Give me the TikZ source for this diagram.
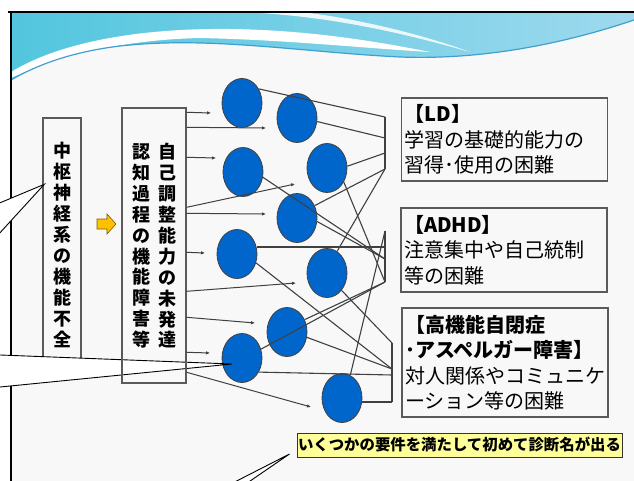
\documentclass[tikz,border=0pt]{standalone}
\usepackage{fontspec}
\setmainfont{Noto Sans CJK JP}
\usetikzlibrary{shapes.geometric,arrows.meta,calc}
\definecolor{bgc}{HTML}{F8F8F8}
\definecolor{ellc}{HTML}{0066CC}
\definecolor{cyanA}{HTML}{52C6DE}
\definecolor{cyanB}{HTML}{9ED9EE}
\definecolor{wline}{HTML}{3F9FD0}
\definecolor{lnc}{HTML}{404040}
\definecolor{boxc}{HTML}{5A5A5A}
\definecolor{arrY}{HTML}{FFC000}
\definecolor{arrO}{HTML}{7F6000}
\definecolor{yel}{HTML}{FFFF99}
\tikzset{
 ell/.style={ellipse, draw=black!75, line width=0.8pt, fill=ellc, minimum width=40pt, minimum height=49pt, inner sep=0pt},
 link/.style={draw=lnc, line width=1.1pt},
 feed/.style={draw=lnc, line width=1pt, -{Latex[length=4pt,width=3.5pt]}},
 pbox/.style={draw=boxc, line width=1.4pt, inner sep=0pt},
 vtxt/.style={font=\bfseries\fontsize{18}{20.9}\selectfont, align=center, inner sep=0pt},
 rbox/.style={draw=boxc, line width=1.4pt, fill=bgc, font=\fontsize{20}{25.5}\selectfont, align=left, inner xsep=3pt, inner ysep=2pt, text width=200pt},
 callout/.style={fill=white, draw=black, line width=0.9pt, line join=miter},
}
\begin{document}
\begin{tikzpicture}[x=1pt,y=-1pt]
\useasboundingbox (0,0) rectangle (634,481);
\clip (0,0) rectangle (634,481);
\fill[white] (0,0) rectangle (634,481);
\fill[bgc] (11,12) rectangle (634,481);
% banner
\shade[left color=cyanA, right color=cyanB] (11,12) -- (634,12) -- (634,20) .. controls (560,45) and (480,60) .. (400,57) .. controls (300,52) and (210,36) .. (120,46) .. controls (70,52) and (35,66) .. (11,80) -- cycle;
\fill[white] (11,72) .. controls (60,42) and (140,28) .. (230,29) .. controls (310,30) and (380,42) .. (430,52) .. controls (360,48) and (290,40) .. (200,38) .. controls (120,40) and (60,56) .. (11,78) -- cycle;
\fill[white, opacity=0.85] (235,12) .. controls (320,14) and (400,32) .. (470,52) .. controls (410,30) and (340,16) .. (300,12) -- cycle;
\draw[wline, line width=1.2pt] (11,80) .. controls (35,66) and (70,52) .. (120,46) .. controls (210,36) and (300,52) .. (400,57) .. controls (480,60) and (560,45) .. (634,20);
% frame
\draw[black, line width=1.3pt] (8,12) -- (634,12);
\draw[black, line width=1.3pt] (11,12) -- (11,481);
% left box
\node[pbox, fill=bgc, minimum width=38pt, minimum height=252pt] (cns) at (62,244) {};
\node[vtxt] (cnst) at (62,245) {中\\枢\\神\\経\\系\\の\\機\\能\\不\\全};
% ellipses
\node[ell] (e1) at (242,103) {};
\node[ell] (e2) at (297,118) {};
\node[ell] (e3) at (243,172) {};
\node[ell] (e4) at (327,168) {};
\node[ell] (e5) at (297,218) {};
\node[ell] (e6) at (237,254) {};
\node[ell] (e7) at (327,273) {};
\node[ell] (e8) at (287,332) {};
\node[ell] (e9) at (242,358) {};
\node[ell] (e10) at (342,398) {};
% callouts 1 and 2
\draw[callout] (-10,207) -- ($(cns.north west)+(2,67)$) -- (-10,243.7) -- cycle;
\draw[callout] (-10,354.6) -- ($(e9.center)+(-10,6)$) -- (-10,388) -- cycle;
% second box
\node[pbox, minimum width=64pt, minimum height=275pt] (b2) at (154,245.5) {};
\node[vtxt] (b2r) at (167,246) {自\\己\\調\\整\\能\\力\\の\\未\\発\\達};
\node[vtxt] (b2l) at (141,246) {認\\知\\過\\程\\の\\機\\能\\障\\害\\等};
% yellow arrow
\draw[fill=arrY, draw=arrO, line width=0.6pt] (97,219) -- (107,219) -- (107,214) -- (116,224) -- (107,234) -- (107,229) -- (97,229) -- cycle;
% feeds
\draw[feed] ($(b2.north east)+(0,5)$) -- ($(e1.center)+(-31,10)$);
\draw[feed] ($(b2.north east)+(0,20)$) -- ($(e2.center)+(-31,10)$);
\draw[feed] ($(b2.north east)+(0,50)$) -- ($(e3.center)+(-27,-14)$);
\draw[feed] ($(b2.north east)+(0,100)$) -- ($(e4.center)+(-32,16)$);
\draw[feed] ($(b2.north east)+(0,106)$) -- ($(e5.center)+(-31,-4)$);
\draw[feed] ($(b2.north east)+(0,145)$) -- ($(e6.center)+(-32,-1)$);
\draw[feed] ($(b2.north east)+(0,184)$) -- ($(e7.center)+(-31,10)$);
\draw[feed] ($(b2.north east)+(0,210)$) -- ($(e8.center)+(-32,-9)$);
\draw[feed] ($(b2.north east)+(0,245)$) -- ($(e9.center)+(-32,-5)$);
\draw[feed] ($(b2.north east)+(0,265)$) -- ($(e10.center)+(-31,9)$);
% bar coordinates
\coordinate (la1) at (385,117);
\coordinate (la2) at (385,138);
\coordinate (la3) at (385,153);
\coordinate (la4) at (385,169);
\coordinate (lb1) at (385,231);
\coordinate (lb2) at (385,247);
\coordinate (lb3) at (385,259);
\coordinate (lb4) at (385,282);
\coordinate (lc1) at (392,343);
\coordinate (lc2) at (392,369);
\coordinate (lc3) at (392,375);
\coordinate (lc4) at (392,402);
\draw[link] (la1) -- (la4);
\draw[link] (lb1) -- (lb4);
\draw[link] (lc1) -- (lc4);
% links
\draw[link] (e1.40) -- (la1);
\draw[link] (e2.-10) -- (la2);
\draw[link] (e4.5) -- (la3);
\draw[link] (e5.35) -- (la4);
\draw[link] (e7.65) -- (la4);
\draw[link] (e3.-15) -- (lb3);
\draw[link] (e5.-10) -- (lb3);
\draw[link] (e6.east |- lb2) -- (lb2);
\draw[link] (e4.-40) -- (lb4);
\draw[link] (e8.35) -- (lb4);
\draw[link] (e9.25) -- (lb4);
\draw[link] (e10.70) -- (lb1);
\draw[link] (e6.-25) -- (lc2);
\draw[link] (e7.-50) -- (lc1);
\draw[link] (e8.-15) -- (lc2);
\draw[link] (e9.-40) -- (lc3);
\draw[link] (e10.east |- lc4) -- (lc4);
% right boxes
\node[rbox, minimum height=83pt] (ld) at (504.5,139.5) {{\bfseries【LD】}\\学習の基礎的能力の\\習得･使用の困難};
\node[rbox, minimum height=84pt] (adhd) at (504,250) {{\bfseries【ADHD】}\\注意集中や自己統制\\等の困難};
\node[rbox, minimum height=109pt] (asd) at (505,362.5) {{\bfseries【高機能自閉症}\\{\bfseries･アスペルガー障害】}\\対人関係やコミュニケ\\ーション等の困難};
% note
\node[draw=black!80, fill=yel, line width=1pt, minimum width=325pt, minimum height=24pt, inner sep=1pt, font=\bfseries\fontsize{15.4}{15.4}\selectfont] (note) at (459.5,445) {いくつかの要件を満たして初めて診断名が出る};
\draw[callout] (219,490) -- ($(note.west)+(-7,9)$) -- (237,490) -- cycle;
\end{tikzpicture}
\end{document}
